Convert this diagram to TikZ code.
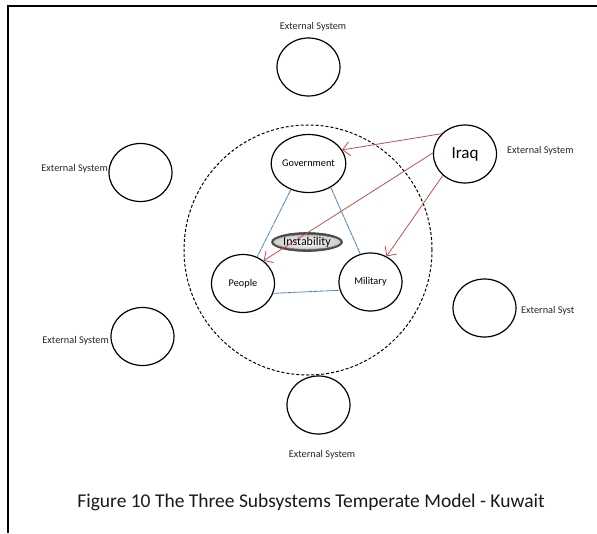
\documentclass[tikz,border=0pt]{standalone}
\usepackage{fontspec}
\setmainfont{Carlito}
\usetikzlibrary{shapes.geometric,arrows.meta}
\definecolor{linkblue}{RGB}{79,129,189}
\definecolor{threatred}{RGB}{192,80,77}
\tikzset{
  sys/.style={draw=black, line width=1.2pt, ellipse, inner sep=0pt,
    minimum width=63pt, minimum height=58pt, font=\fontsize{10.3}{12}\selectfont},
  extlabel/.style={font=\fontsize{10.3}{12}\selectfont, text=black!85, inner sep=0pt},
  link/.style={draw=linkblue, line width=0.8pt, dash pattern=on 6pt off 0.6pt},
  threat/.style={draw=threatred, line width=0.8pt,
    -{Straight Barb[length=7pt,width=14pt,line width=0.8pt]}},
}
\begin{document}
\begin{tikzpicture}[x=1pt,y=-1pt]
  \useasboundingbox (0,0) rectangle (597,533);
  % frame edges
  \draw[line width=2pt] (8,533) -- (8,6) -- (597,6);

  % society boundary
  \node[draw, densely dashed, line width=1pt, ellipse, minimum width=248pt,
        minimum height=250pt, inner sep=0pt] (society) at (308,250) {};

  % subsystems
  \node[sys] (gov) at (308.5,163.5) {Government};
  \node[sys] (people) at (243,283.5) {People};
  \node[sys] (mil) at (370.5,282) {Military};

  % instability marker
  \node[ellipse, inner sep=0pt, minimum width=71pt, minimum height=19pt,
        draw=black!70, line width=0.6pt, outer color=black!75, inner color=black!35] (instab) at (307,242) {};
  \node[ellipse, inner sep=0pt, minimum width=60pt, minimum height=11pt,
        draw=black!55, line width=0.5pt, inner color=white, outer color=black!20,
        font=\fontsize{12}{14}\selectfont] (instabtext) at (307,242) {Instability};

  % links between subsystems
  \draw[link] (gov.236) -- (people.62);
  \draw[link] (gov.-47) -- (mil.110);
  \draw[link] (people.-18) -- (mil.195);

  % external systems
  \node[sys] (iraq) at (465,154) {\fontsize{17}{20}\selectfont Iraq};
  \node[extlabel, anchor=west] (iraqlbl) at (507,151) {External System};

  \node[sys] (exttop) at (308.5,67) {};
  \node[extlabel] (exttoplbl) at (313,27) {External System};

  \node[sys] (extul) at (140.5,172.5) {};
  \node[extlabel, anchor=east] (extullbl) at (108,169) {External System};

  \node[sys] (extll) at (142.5,336.5) {};
  \node[extlabel, anchor=east] (extlllbl) at (109,341) {External System};

  \node[sys] (extr) at (484.5,308) {};
  \node[extlabel, anchor=west] (extrlbl) at (521,311) {External Syst};

  \node[sys] (extb) at (318.5,405) {};
  \node[extlabel] (extblbl) at (322,455) {External System};

  % influence of Iraq
  \draw[threat] (iraq.139) -- (gov.22);
  \draw[threat] (iraq.178) -- (people.48);
  \draw[threat] (iraq.224) -- (mil.58);

  % caption
  \node[font=\fontsize{19.5}{23}\selectfont, text=black!90] (caption) at (311,502)
    {Figure 10 The Three Subsystems Temperate Model - Kuwait};
\end{tikzpicture}
\end{document}
